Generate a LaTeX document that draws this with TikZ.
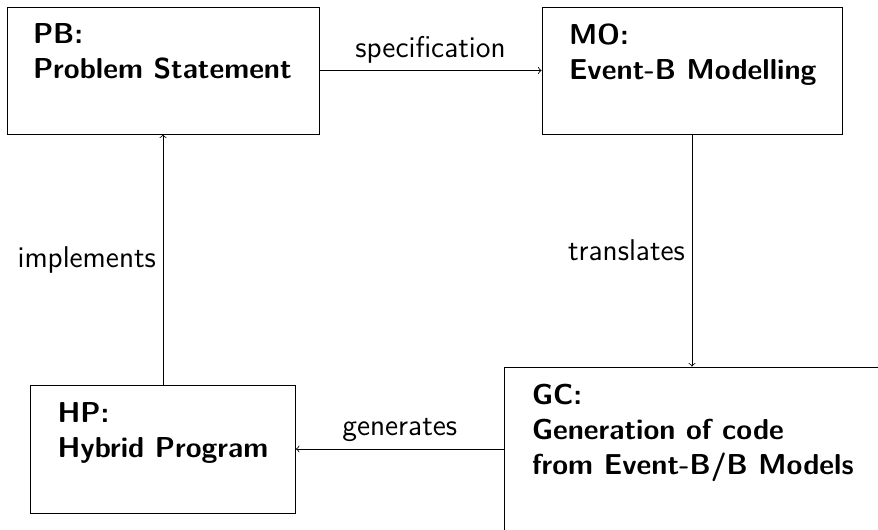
\documentclass[tikz,border=0pt]{standalone}
\usepackage{tikz}

\tikzset{
  box/.style={draw,inner sep=0pt},
  boxtext/.style={anchor=north west,align=left,inner sep=0pt,
    font=\fontsize{14.4}{17.5}\selectfont\sffamily\bfseries},
  lbl/.style={font=\fontsize{15}{18}\selectfont\sffamily},
}

\begin{document}
\begin{tikzpicture}[x=0.5pt,y=-0.5pt]
    \useasboundingbox (0,0) rectangle (878,530);
    % the four stages
    \node[box,minimum width=156pt,minimum height=63.5pt] (pb) at (163,70.5) {};
    \node[boxtext] (pbtext) at ([xshift=13pt,yshift=-8.5pt]pb.north west) {PB:\\Problem Statement};
    \node[box,minimum width=150pt,minimum height=63.5pt] (mo) at (692,70.5) {};
    \node[boxtext] (motext) at ([xshift=13.5pt,yshift=-8.5pt]mo.north west) {MO:\\Event-B Modelling};
    \node[box,minimum width=188pt,minimum height=82pt] (gc) at (692,449) {};
    \node[boxtext] (gctext) at ([xshift=14pt,yshift=-8.5pt]gc.north west) {GC:\\Generation of code\\from Event-B/B Models};
    \node[box,minimum width=132.5pt,minimum height=64pt] (hp) at (163,449) {};
    \node[boxtext] (hptext) at ([xshift=13.5pt,yshift=-9pt]hp.north west) {HP:\\Hybrid Program};
    % connectors
    \draw[->] (pb) -- node[above,lbl] (speclbl) {specification} (mo);
    \draw[->] (mo) -- node[left,lbl] (translbl) {translates} (gc);
    \draw[->] (gc) -- node[above,lbl] (genlbl) {generates} (hp);
    \draw[->] (hp) -- node[left,lbl] (impllbl) {implements} (pb);
\end{tikzpicture}
\end{document}
